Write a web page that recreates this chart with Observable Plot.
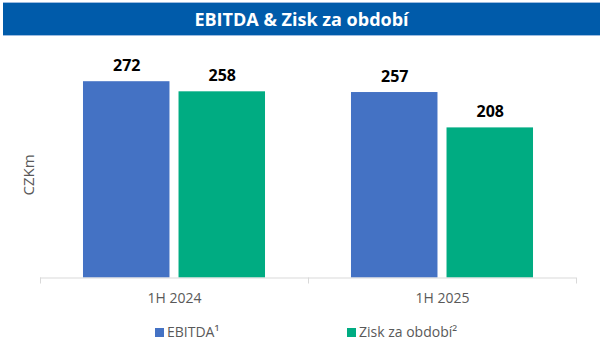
<!DOCTYPE html>
<html>
<head>
<meta charset="utf-8">
<script src="https://cdn.jsdelivr.net/npm/d3@7"></script>
<script src="https://cdn.jsdelivr.net/npm/@observablehq/plot@0.6"></script>
<style>
  html, body { margin: 0; padding: 0; background: #fff; }
  #wrap { position: relative; width: 603px; height: 351px; overflow: hidden; font-family: "Open Sans", sans-serif; }
  #title { position: absolute; left: 3px; top: 2px; width: 597px; height: 32px; background: #005BAA;
           border-top: 1px solid #9CBBE0; border-bottom: 1px solid #9CBBE0;
           color: #fff; font-weight: 700; font-size: 18px; line-height: 32px; text-align: center; z-index: 2; }
  #ylabel { position: absolute; left: 28px; top: 175px; transform: translate(-50%, -50%) rotate(-90deg);
            color: #595959; font-size: 15px; white-space: nowrap; z-index: 2; }
  #legend { position: absolute; top: 322px; left: 0; width: 603px; height: 20px; color: #595959; font-size: 14px; z-index: 2; }
  .item { position: absolute; top: 0; line-height: 20px; white-space: nowrap; }
  .sw { display: inline-block; width: 9px; height: 9px; margin-right: 3px; vertical-align: -0px; }
  #chart { position: absolute; left: 0; top: 0; }
</style>
</head>
<body>
<div id="wrap">
  <div id="title">EBITDA &amp; Zisk za období</div>
  <div id="ylabel">CZKm</div>
  <div id="chart"></div>
  <div id="legend"></div>
</div>
<script>
const periods = ["1H 2024", "1H 2025"];
const seriesNames = ["EBITDA", "Zisk za období"];
const legendLabels = ["EBITDA¹", "Zisk za období²"];
const ebitdaValues = [272, 257];
const ziskValues = [258, 208];
const colors = ["#4472C4", "#00AC82"];

const data = [];
periods.forEach((p, i) => {
  data.push({period: p, series: seriesNames[0], value: ebitdaValues[i]});
  data.push({period: p, series: seriesNames[1], value: ziskValues[i]});
});

const chart = Plot.plot({
  width: 603,
  height: 351,
  marginLeft: 40,
  marginRight: 27,
  marginTop: 61,
  marginBottom: 73.5,
  style: {fontFamily: "Open Sans", fontSize: "14px", color: "#595959", background: "transparent"},
  fx: {domain: periods, padding: 0, label: null, tickSize: 0, tickPadding: 15},
  x: {domain: seriesNames, axis: null, paddingInner: 0.0947, paddingOuter: 0.45, round: false},
  y: {domain: [0, 300], axis: null},
  color: {domain: seriesNames, range: colors},
  marks: [
    Plot.barY(data, {fx: "period", x: "series", y: "value", fill: "series"}),
    Plot.ruleY([0], {stroke: "#D9D9D9", strokeWidth: 1}),
    Plot.text(data, {fx: "period", x: "series", y: "value", text: d => String(d.value),
      lineAnchor: "bottom", dy: -11, fill: "#000", fontWeight: "bold", fontSize: 16})
  ]
});

// boundary tick marks of the category axis, from the library's scales
const fx = chart.scale("fx");
const ys = chart.scale("y");
const y0 = ys.apply(0);
const bounds = fx.domain.map(d => fx.apply(d));
bounds.push(fx.apply(fx.domain[fx.domain.length - 1]) + fx.bandwidth);
const g = d3.select(chart).append("g").attr("stroke", "#D9D9D9").attr("stroke-width", 1);
bounds.forEach(b => {
  g.append("line").attr("x1", Math.round(b) + 0.5).attr("x2", Math.round(b) + 0.5)
   .attr("y1", y0).attr("y2", y0 + 6);
});

document.getElementById("chart").appendChild(chart);

const legend = document.getElementById("legend");
const legendX = [155, 347];
legendLabels.forEach((lab, i) => {
  const it = document.createElement("div");
  it.className = "item";
  it.style.left = legendX[i] + "px";
  it.innerHTML = `<span class="sw" style="background:${colors[i]}"></span>${lab}`;
  legend.appendChild(it);
});
</script>
</body>
</html>
